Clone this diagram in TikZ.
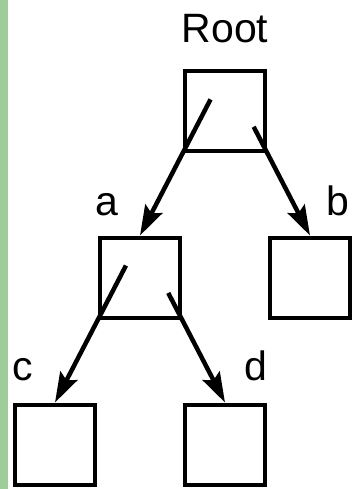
\documentclass[tikz,border=0pt]{standalone}
\usepackage{fontspec}
\setmainfont{Liberation Sans}
\definecolor{barleaf}{RGB}{157,205,153}
\usepackage{tikz}
\usetikzlibrary{arrows.meta,positioning,calc}
\tikzset{
  nodebox/.style={draw,line width=2pt,minimum size=40pt,inner sep=0pt},
  link/.style={-{Stealth[length=15pt,width=9.5pt,inset=2.5pt]},line width=2.25pt},
  lbl/.style={font=\fontsize{20.5}{24}\selectfont,anchor=base,inner sep=0pt},
}

\begin{document}
\begin{tikzpicture}[x=0.5pt,y=-0.5pt,node distance=83.5pt and 42.5pt,on grid]
  \useasboundingbox (0,0) rectangle (354,489);
  \fill[barleaf] (0,0) rectangle (8,489);
  % the tree
  \node[nodebox] (root) at (225,110.5) {};
  \node[nodebox,below left=of root] (a) {};
  \node[nodebox,below right=of root] (b) {};
  \node[nodebox,below left=of a] (c) {};
  \node[nodebox,below right=of a] (d) {};
  % names
  \node[lbl] (rootlbl) at ([yshift=13pt]root.north) {Root};
  \node[lbl] (albl) at ([xshift=4.5pt,yshift=10pt]a.north west) {a};
  \node[lbl] (blbl) at ([xshift=-7pt,yshift=10pt]b.north east) {b};
  \node[lbl] (clbl) at ([xshift=5pt,yshift=11pt]c.north west) {c};
  \node[lbl] (dlbl) at ([xshift=-5.5pt,yshift=11pt]d.north east) {d};
  % pointers run out through the lower corners
  \draw[link] ($(a.north)!1.64!(root.south west)$) -- (a.north);
  \draw[link] ($(b.north)!1.31!(root.south east)$) -- (b.north);
  \draw[link] ($(c.north)!1.65!(a.south west)$) -- (c.north);
  \draw[link] ($(d.north)!1.32!(a.south east)$) -- (d.north);
\end{tikzpicture}
\end{document}
